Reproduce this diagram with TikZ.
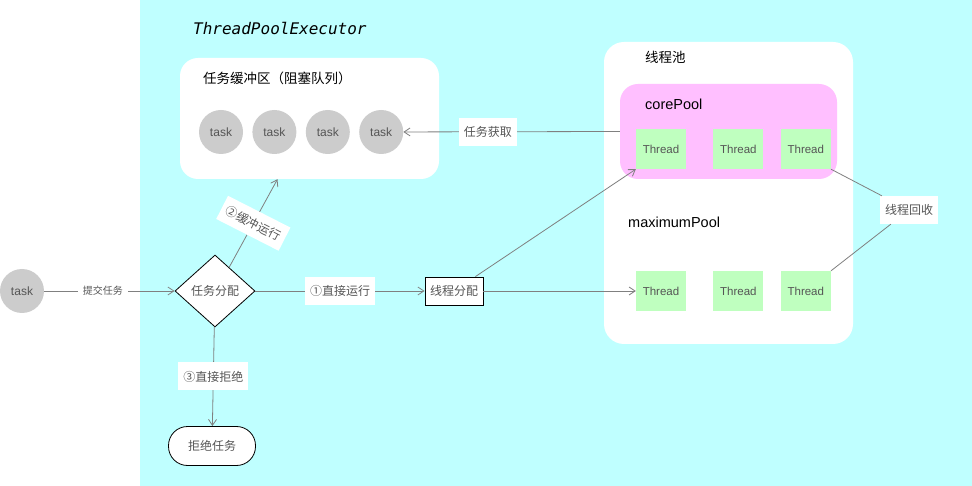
\documentclass[tikz,border=0pt]{standalone}
\usepackage{fontspec}
\setmainfont{Liberation Sans}
\newfontfamily\cjk{Noto Sans CJK SC}
\newfontfamily\codefont{DejaVu Sans Mono}
\usetikzlibrary{arrows.meta,positioning,calc,shapes.geometric}
\definecolor{tpbg}{RGB}{191,255,255}
\definecolor{tpcore}{RGB}{255,191,255}
\definecolor{tpthr}{RGB}{191,255,191}
\definecolor{tptask}{RGB}{204,204,204}
\definecolor{tpedge}{RGB}{128,128,128}
\definecolor{tptxt}{RGB}{85,85,85}
\newcommand\fsz[1]{\fontsize{#1}{#1}\selectfont}
\tikzset{
  task/.style={
    circle, fill=tptask, text=tptxt, minimum size=44pt,
    inner sep=0pt, font=\fsz{12}
  },
  thr/.style={
    fill=tpthr, text=tptxt, minimum width=50pt, minimum height=40pt,
    inner sep=0pt, font=\fsz{11.5}
  },
  panel/.style={fill=white, rounded corners=18pt, inner sep=0pt},
  head/.style={anchor=west, inner sep=0pt},
  box/.style={
    draw=black, fill=white, line width=0.8pt, inner sep=0pt,
    text=tptxt, font=\cjk\fsz{12}
  },
  lbl/.style={
    fill=white, text=tptxt, inner xsep=5pt, inner ysep=0pt,
    minimum height=28pt, font=\cjk\fsz{12}
  },
  arr/.style={-{Straight Barb[length=6pt,width=8pt]}, draw=tpedge, line width=0.8pt},
  ln/.style={draw=tpedge, line width=0.8pt}
}

\begin{document}
\begin{tikzpicture}[x=1pt, y=-1pt, node distance=9pt]
  \useasboundingbox (0,0) rectangle (972,486);
  \node[fill=tpbg, anchor=north west, inner sep=0pt,
        minimum width=832pt, minimum height=486pt] (exec) at (140,0) {};
  \node[head, font=\codefont\itshape\fsz{16}] (title) at (193,28) {ThreadPoolExecutor};

  % task queue
  \node[panel, minimum width=259pt, minimum height=121pt] (buf) at (309.5,118.5) {};
  \node[head, font=\cjk\fsz{13.5}] (bufhead) at (203,78) {任务缓冲区（阻塞队列）};
  \node[task] (q1) at (221,132) {task};
  \node[task, right=of q1] (q2) {task};
  \node[task, right=of q2] (q3) {task};
  \node[task, right=of q3] (q4) {task};

  % thread pool
  \node[panel, rounded corners=20pt, minimum width=249pt, minimum height=302pt] (pool) at (728.5,193) {};
  \node[head, font=\cjk\fsz{13.5}] (poolhead) at (645,57) {线程池};
  \node[panel, fill=tpcore, minimum width=217pt, minimum height=95pt] (core) at (728.5,131.5) {};
  \node[head, font=\fsz{14.5}] (corehead) at (645,104) {corePool};
  \node[thr] (c1) at (661,149) {Thread};
  \node[thr, right=27pt of c1] (c2) {Thread};
  \node[thr, right=17pt of c2] (c3) {Thread};
  \node[head, font=\fsz{14.5}] (maxhead) at (628,222) {maximumPool};
  \node[thr] (m1) at (661,291) {Thread};
  \node[thr, right=27pt of m1] (m2) {Thread};
  \node[thr, right=17pt of m2] (m3) {Thread};
  \node[lbl] (recyc) at (909,210) {线程回收};

  % dispatch
  \node[task] (t0) at (22,291) {task};
  \node[box, diamond, aspect=1.1, minimum width=80pt, minimum height=72pt] (dist) at (215,291) {任务分配};
  \node[box, minimum width=58pt, minimum height=28pt] (assign) at (454,291) {线程分配};
  \node[box, rounded corners=19pt, minimum width=87pt, minimum height=39pt] (reject) at (212,446) {拒绝任务};

  \draw[arr] (t0) -- node[lbl, font=\cjk\fsz{10}, minimum height=20pt, pos=0.45] (lsub) {提交任务} (dist);
  \draw[arr] (dist) -- node[lbl] (lrun) {①直接运行} (assign);
  \draw[arr] ($(dist.north)!0.35!(dist.east)$) -- node[lbl, rotate=-27, minimum height=26pt] (lbuf) {②缓冲运行} ([xshift=-32pt]buf.south);
  \draw[arr] (dist) -- node[lbl] (lrej) {③直接拒绝} (reject);
  \draw[arr] (core.west) -- node[lbl, pos=0.61] (lget) {任务获取} (q4);
  \draw[arr] (assign) -- (m1);
  \draw[arr] ([xshift=-8pt]assign.north east) -- (c1.south west);
  \draw[ln] (c3.south east) -- (recyc) -- (m3.north east);
\end{tikzpicture}
\end{document}
